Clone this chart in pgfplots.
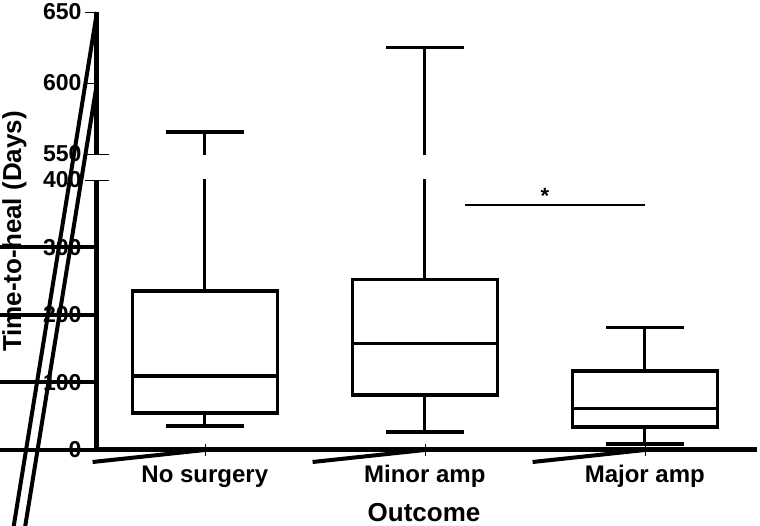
\documentclass[border=0pt]{standalone}
\usepackage{fontspec}
\setmainfont{Liberation Sans}
\usepackage{pgfplots}
\pgfplotsset{compat=1.18}

\pgfplotsset{
  brk/.style={
    scale only axis, width=660pt, xmin=0.51, xmax=3.51,
    clip mode=individual,
    axis y line=left,
    y axis line style={-, black},
    x axis line style={-, black},
    tick align=outside, major tick length=12pt,
    major tick style={black},
    yticklabel style={font=\fontsize{23}{27}\selectfont\bfseries},
    xticklabel style={font=\fontsize{24}{28}\selectfont\bfseries, yshift=-6pt},
    /pgf/number format/assume math mode=true,
    extra tick style={major tick length=24pt, tick align=center},
  },
  bx/.style={black, line width=3.2pt, solid, mark=none, line cap=rect, line join=miter},
}
\tikzset{
  ax/.style={black, line width=5pt},
  tk/.style={black, line width=4pt},
}

\begin{document}
\begin{tikzpicture}
\path[use as bounding box] (0,0) rectangle (760pt,526pt);

% upper part of the broken axis: top of the long whiskers
\begin{axis}[brk, at={(97pt,372pt)}, anchor=south west, height=142pt,
  ymin=550, ymax=650, ytick={600,650}, extra y ticks={550},
  axis x line=none, xtick=\empty]
  \addplot[bx] coordinates {(1,540) (1,565.5)};
  \addplot[bx] coordinates {(0.83,565.5) (1.17,565.5)};
  \addplot[bx] coordinates {(2,540) (2,625)};
  \addplot[bx] coordinates {(1.83,625) (2.17,625)};
  % heavier axis line and ticks
  \draw[ax] (rel axis cs:0,0) -- (rel axis cs:0,1);
  \pgfplotsinvokeforeach{600,650}{\draw[tk] (axis cs:0.51,#1) -- ++(-12pt,0);}
  \draw[tk] (axis cs:0.51,550) ++(-12pt,0) -- ++(22pt,0);
\end{axis}

% lower part
\begin{axis}[brk, at={(97pt,76pt)}, anchor=south west, height=270pt,
  ymin=0, ymax=400, ytick={0,100,200,300}, extra y ticks={400},
  axis x line=bottom,
  x axis line style={-, black},
  xtick={1,2,3},
  xticklabels={No surgery, Minor amp, Major amp}]
  % No surgery: 35.6 / 54.8 / 109.6 / 235.6 / 565.5
  \addplot[bx] coordinates {(0.67,54.8) (1.33,54.8) (1.33,235.6) (0.67,235.6) (0.67,54.8)};
  \addplot[bx] coordinates {(0.67,109.6) (1.33,109.6)};
  \addplot[bx] coordinates {(1,54.8) (1,35.6)};
  \addplot[bx] coordinates {(0.83,35.6) (1.17,35.6)};
  \addplot[bx] coordinates {(1,235.6) (1,410)};
  % Minor amp: 26.7 / 81.5 / 158 / 253 / 625
  \addplot[bx] coordinates {(1.67,81.5) (2.33,81.5) (2.33,253) (1.67,253) (1.67,81.5)};
  \addplot[bx] coordinates {(1.67,158) (2.33,158)};
  \addplot[bx] coordinates {(2,81.5) (2,26.7)};
  \addplot[bx] coordinates {(1.83,26.7) (2.17,26.7)};
  \addplot[bx] coordinates {(2,253) (2,410)};
  % Major amp: 9 / 34 / 62 / 117 / 181
  \addplot[bx] coordinates {(2.67,34) (3.33,34) (3.33,117) (2.67,117) (2.67,34)};
  \addplot[bx] coordinates {(2.67,62) (3.33,62)};
  \addplot[bx] coordinates {(3,34) (3,9)};
  \addplot[bx] coordinates {(2.83,9) (3.17,9)};
  \addplot[bx] coordinates {(3,117) (3,181)};
  \addplot[bx] coordinates {(2.83,181) (3.17,181)};
  % significance bar
  \addplot[black, line width=2pt, mark=none] coordinates {(2.183,363) (3.0,363)};
  \node[font=\fontsize{22}{26}\selectfont\bfseries, anchor=south, inner sep=1pt] at (axis cs:2.546,363) {*};
  % heavier axis lines and ticks
  \draw[ax] (rel axis cs:0,1) -- (rel axis cs:0,0) -- (rel axis cs:1,0);
  \pgfplotsinvokeforeach{0,100,200,300}{\draw[tk] (axis cs:0.51,#1) -- ++(-12pt,0);}
  \draw[tk] (axis cs:0.51,400) ++(-12pt,0) -- ++(22pt,0);
  \pgfplotsinvokeforeach{1,2,3}{\draw[tk] (axis cs:#1,0) -- ++(0,-12pt);}
\end{axis}

\node[rotate=90, anchor=base, font=\fontsize{26}{30}\selectfont\bfseries] at (21pt,294.5pt) {Time-to-heal (Days)};
\node[anchor=base, inner sep=0pt, font=\fontsize{26}{30}\selectfont\bfseries] at (424pt,4pt) {Outcome};
\end{tikzpicture}
\end{document}
